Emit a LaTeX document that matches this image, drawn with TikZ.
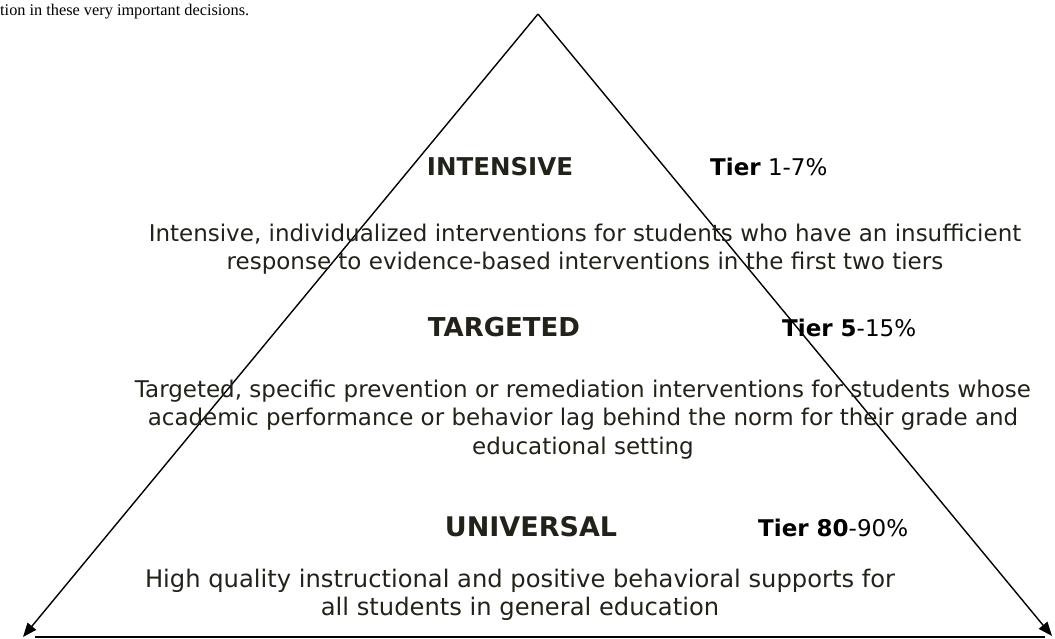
\documentclass[tikz,border=0pt]{standalone}
\usepackage{fontspec}
\setmainfont{DejaVu Sans}
\newfontfamily\timesfont{Liberation Serif}
\usetikzlibrary{arrows.meta}
\definecolor{txt}{RGB}{34,34,26}
\begin{document}
\begin{tikzpicture}[x=1pt,y=-1pt,
  body/.style={text=txt,font=\fontsize{23}{28.5}\selectfont,align=center,inner sep=0pt,anchor=base},
  head/.style={text=txt,font=\fontsize{26}{30}\selectfont\bfseries,inner sep=0pt,anchor=base},
  tier/.style={text=black,font=\fontsize{23}{28}\selectfont,inner sep=0pt,anchor=base west},
  edge/.style={line width=1.4pt,-{Triangle[length=14pt,width=11pt]}}]
\useasboundingbox (0,0) rectangle (1055,639);
\coordinate (apex) at (538,14);
\coordinate (bl) at (23,637);
\coordinate (br) at (1052,636);
\coordinate (hl) at (35,637);
\coordinate (hr) at (1045,637);
\draw[edge] (apex) -- (bl);
\draw[edge] (apex) -- (br);
\draw[line width=2pt] (hl) -- (hr);
\node[anchor=base west,inner sep=0pt,font=\timesfont\fontsize{16.3}{18}\selectfont] (intro) at (0,16) {tion in these very important decisions.};
\node[head,font=\fontsize{24.5}{30}\selectfont\bfseries] (h1) at (500,176) {INTENSIVE};
\node[tier] (t1) at (710,176) {\textbf{Tier} 1-7\%};
\node[body] (b1) at (585,269.5) {Intensive, individualized interventions for students who have an insufficient\\response to evidence-based interventions in the first two tiers};
\node[head] (h2) at (504,336) {TARGETED};
\node[tier] (t2) at (782,336) {\textbf{Tier 5}-15\%};
\node[body] (b2) at (583,454) {Targeted, specific prevention or remediation interventions for students whose\\academic performance or behavior lag behind the norm for their grade and\\educational setting};
\node[head,font=\fontsize{27}{30}\selectfont\bfseries] (h3) at (531,536) {UNIVERSAL};
\node[tier] (t3) at (758,536) {\textbf{Tier 80}-90\%};
\node[body,font=\fontsize{24.2}{28.5}\selectfont] (b3) at (520,615.5) {High quality instructional and positive behavioral supports for\\all students in general education};
\end{tikzpicture}
\end{document}
